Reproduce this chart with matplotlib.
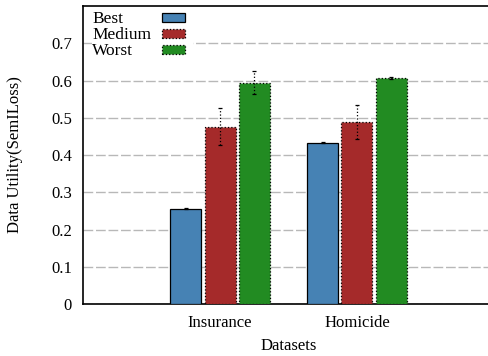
import numpy as np
import matplotlib.pyplot as plt
from matplotlib.patches import Rectangle

plt.rcParams['font.family'] = ['Liberation Serif', 'DejaVu Serif']

datasets = ['Insurance', 'Homicide']
levels = ['Best', 'Medium', 'Worst']
best = [0.256, 0.433]
medium = [0.476, 0.489]
worst = [0.594, 0.607]
best_err = [0.002, 0.002]
medium_err = [0.049, 0.045]
worst_err = [0.031, 0.002]
colors = ['#4682b4', '#a52a2a', '#228b22']

fig = plt.figure(figsize=(4.89, 3.56), dpi=100)
ax = fig.add_axes([0.170, 0.146, 0.84, 0.837])

x = np.arange(len(datasets))
w = 0.226
step = 0.25
series = [best, medium, worst]
errs = [best_err, medium_err, worst_err]
for i, (vals, err) in enumerate(zip(series, errs)):
    pos = x + (i - 1) * step
    ls = '-' if i == 0 else ':'
    ax.bar(pos, vals, width=w, color=colors[i], edgecolor='black',
           linewidth=0.9, linestyle=ls, zorder=3)
    eb = ax.errorbar(pos, vals, yerr=err, fmt='none', ecolor='black',
                     elinewidth=0.9, capsize=1.5, capthick=0.9, zorder=4)
    eb[2][0].set_linestyle(':')

ax.set_xlim(-1, 2)
ax.set_ylim(0, 0.8)
ax.set_xticks(x)
ax.set_xticklabels(datasets, fontsize=12)
ax.set_yticks([0, 0.1, 0.2, 0.3, 0.4, 0.5, 0.6, 0.7])
ax.set_yticklabels(['0', '0.1', '0.2', '0.3', '0.4', '0.5', '0.6', '0.7'],
                   fontsize=12)
ax.tick_params(axis='y', length=0, pad=8)
ax.tick_params(axis='x', length=0, pad=8)
ax.yaxis.grid(True, color='#b8b8b8', linestyle=(0, (7, 2)), linewidth=1.0,
              zorder=0)
ax.set_axisbelow(True)
for side in ['left', 'bottom', 'top']:
    ax.spines[side].set_linewidth(1.2)
ax.spines['right'].set_visible(False)

ax.set_xlabel('Datasets', fontsize=12, labelpad=5)
ax.set_ylabel('Data Utility(SemILoss)', fontsize=12, labelpad=20)

# key box in the top left corner
ax.add_patch(Rectangle((0.022, 0.79), 0.245, 0.2, transform=ax.transAxes,
                       facecolor='white', edgecolor='none', zorder=2))
rows_y = [0.961, 0.908, 0.854]
for lab, c, yy, k in zip(levels, colors, rows_y, range(3)):
    ax.text(0.022, yy - 0.019, lab, transform=ax.transAxes, fontsize=12.5,
            va='baseline', ha='left', zorder=5)
    ax.add_patch(Rectangle((0.193, yy - 0.015), 0.056, 0.03,
                           transform=ax.transAxes, facecolor=c,
                           edgecolor='black', linewidth=0.9,
                           linestyle='-' if k == 0 else ':', zorder=5))

fig.savefig('out.png', dpi=100)
